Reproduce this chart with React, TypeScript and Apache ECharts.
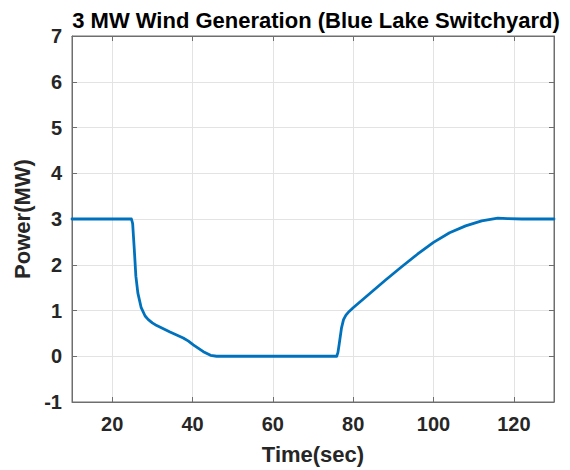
import React, { useEffect, useRef } from "react";
import * as echarts from "echarts";

// Wind plant output over the event, seconds vs MW
const timeSec = [
  10, 24.8, 25.1, 25.5, 25.9, 26.4, 27.2, 28.2, 29.0, 30.0, 31.1, 34.4, 37.7,
  39.0, 40.2, 42.7, 44.5, 46, 60, 75.9, 76.2, 76.5, 77.1, 77.6, 78.2, 79.0,
  80, 84, 88, 92, 96, 100, 104, 108, 112, 116, 118.5, 122, 130,
];
const powerMW = [
  3, 3, 2.9, 2.35, 1.75, 1.38, 1.07, 0.88, 0.8, 0.73, 0.67, 0.53, 0.4, 0.33,
  0.25, 0.1, 0.02, 0, 0, 0, 0.08, 0.25, 0.62, 0.8, 0.9, 0.98, 1.06, 1.36,
  1.66, 1.95, 2.23, 2.49, 2.7, 2.85, 2.96, 3.02, 3.01, 3.0, 3.0,
];

const titleText = "3 MW Wind Generation (Blue Lake Switchyard)";
const xName = "Time(sec)";
const yName = "Power(MW)";

const FONT = "'Liberation Sans', Arial, Helvetica, sans-serif";
const INK = "#262626";
const AXIS = "#6e6e6e";
const GRID = "#e3e3e3";

export default function App() {
  const ref = useRef<HTMLDivElement>(null);

  useEffect(() => {
    if (!ref.current) return;
    const chart = echarts.init(ref.current, undefined, { renderer: "svg" });
    const points = timeSec.map((t, i) => [t, powerMW[i]]);

    const hiddenLabels = { show: false };
    const tick = { show: true, inside: true, length: 5, lineStyle: { color: AXIS } };
    const line = { show: true, onZero: false, lineStyle: { color: AXIS, width: 1 } };

    chart.setOption({
      animation: false,
      backgroundColor: "#ffffff",
      title: {
        text: titleText,
        left: 311,
        textAlign: "center",
        top: 4,
        textStyle: { fontFamily: FONT, fontWeight: "bold", fontSize: 22, color: "#000" },
      },
      grid: {
        left: 72,
        right: 16,
        top: 36,
        bottom: 67,
        show: true,
        borderColor: AXIS,
        borderWidth: 1,
        backgroundColor: "transparent",
      },
      xAxis: [
        {
          type: "value",
          min: 10,
          max: 130,
          splitNumber: 6,
          position: "bottom",
          name: xName,
          nameLocation: "middle",
          nameGap: 41,
          nameTextStyle: { fontFamily: FONT, fontWeight: "bold", fontSize: 22, color: INK },
          axisLine: line,
          axisTick: tick,
          axisLabel: {
            fontFamily: FONT,
            fontWeight: "bold",
            fontSize: 20,
            color: INK,
            margin: 12,
            showMinLabel: false,
            showMaxLabel: false,
          },
          splitLine: { show: true, lineStyle: { color: GRID, width: 1 } },
        },
        {
          type: "value",
          min: 10,
          max: 130,
          splitNumber: 6,
          position: "top",
          axisLine: line,
          axisTick: tick,
          axisLabel: hiddenLabels,
          splitLine: { show: false },
        },
      ],
      yAxis: [
        {
          type: "value",
          min: -1,
          max: 7,
          interval: 1,
          position: "left",
          name: yName,
          nameLocation: "middle",
          nameGap: 31,
          nameTextStyle: { fontFamily: FONT, fontWeight: "bold", fontSize: 22, color: INK },
          axisLine: line,
          axisTick: tick,
          axisLabel: {
            fontFamily: FONT,
            fontWeight: "bold",
            fontSize: 20,
            color: INK,
            margin: 10,
          },
          splitLine: { show: true, lineStyle: { color: GRID, width: 1 } },
        },
        {
          type: "value",
          min: -1,
          max: 7,
          interval: 1,
          position: "right",
          axisLine: line,
          axisTick: tick,
          axisLabel: hiddenLabels,
          splitLine: { show: false },
        },
      ],
      series: [
        {
          type: "line",
          xAxisIndex: 0,
          yAxisIndex: 0,
          data: points,
          showSymbol: false,
          smooth: false,
          lineStyle: { color: "#0072BD", width: 2.8, join: "round", cap: "round" },
          z: 5,
        },
      ],
    });

    return () => chart.dispose();
  }, []);

  return (
    <div
      ref={ref}
      style={{ position: "fixed", left: 0, top: 0, width: 570, height: 470, background: "#fff" }}
    />
  );
}
